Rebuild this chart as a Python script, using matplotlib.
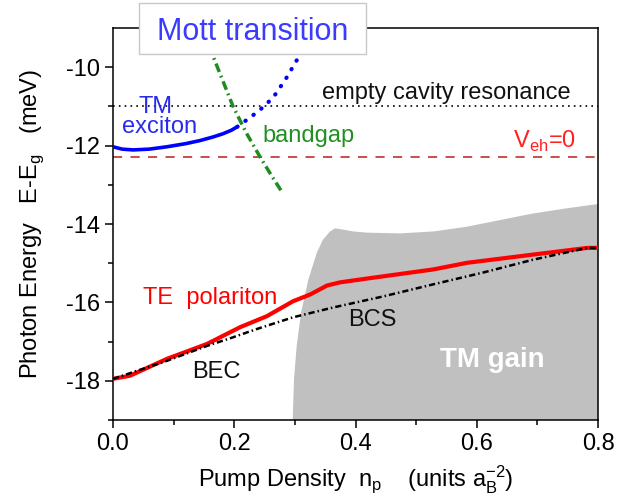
import matplotlib
matplotlib.use("Agg")
import matplotlib.pyplot as plt
from matplotlib.patches import Rectangle

plt.rcParams['font.family'] = ['Liberation Sans', 'DejaVu Sans']
plt.rcParams['mathtext.fontset'] = 'custom'
plt.rcParams['mathtext.rm'] = 'Liberation Sans'
plt.rcParams['axes.unicode_minus'] = False

# TM exciton (solid) and its continuation (dotted)
exc_x = [0.0, 0.015, 0.033, 0.06, 0.089, 0.12, 0.144, 0.165, 0.181, 0.195, 0.205]
exc_y = [-12.03, -12.09, -12.11, -12.09, -12.03, -11.95, -11.87, -11.78, -11.70, -11.61, -11.52]
mott_x = [0.205, 0.214, 0.241, 0.264, 0.285, 0.307, 0.33]
mott_y = [-11.52, -11.42, -11.11, -10.78, -10.30, -9.72, -9.0]

# bandgap
gap_x = [0.147, 0.165, 0.198, 0.22, 0.243, 0.262, 0.279]
gap_y = [-9.0, -9.72, -11.0, -11.68, -12.3, -12.78, -13.19]

# TE polariton and BCS
te_x = [0.0, 0.028, 0.089, 0.155, 0.21, 0.254, 0.297, 0.325, 0.353, 0.374, 0.429, 0.528, 0.584, 0.693, 0.782, 0.8]
te_y = [-17.95, -17.87, -17.44, -17.06, -16.63, -16.35, -15.97, -15.80, -15.57, -15.49, -15.37, -15.16, -14.99, -14.78, -14.61, -14.61]
bcs_x = [0.0, 0.089, 0.155, 0.198, 0.237, 0.297, 0.363, 0.445, 0.528, 0.61, 0.693, 0.782, 0.8]
bcs_y = [-17.95, -17.49, -17.11, -16.89, -16.68, -16.38, -16.13, -15.85, -15.54, -15.24, -14.91, -14.61, -14.61]

# TM gain region outline
gain_x = [0.2964, 0.2986, 0.3030, 0.3102, 0.3222, 0.3360, 0.3459, 0.3579, 0.3662, 0.3744, 0.3964,
          0.4185, 0.4734, 0.5284, 0.5834, 0.6384, 0.6933, 0.7484, 0.8, 0.8]
gain_y = [-19.0, -17.95, -17.11, -16.26, -15.42, -14.74, -14.41, -14.19, -14.11, -14.13, -14.19,
          -14.22, -14.24, -14.19, -14.07, -13.90, -13.73, -13.60, -13.49, -19.0]

cavity = -11.0
veh0 = -12.3

xticks = [0.0, 0.2, 0.4, 0.6, 0.8]
yticks = [-18, -16, -14, -12, -10]

fig = plt.figure(figsize=(6.26, 4.98), dpi=100)
ax = fig.add_axes([0.1805, 0.1566, 0.7748, 0.7872])

ax.fill(gain_x, gain_y, color='#c0c0c0', lw=0, zorder=1)

ax.axhline(cavity, color='black', lw=1.2, ls=(0, (1, 2.5)), zorder=2)
ax.axhline(veh0, color='#c0302f', lw=1.2, ls=(0, (5.5, 5)), zorder=2)

ax.plot(te_x, te_y, color='#ff0000', lw=3, zorder=3)
ax.plot(bcs_x, bcs_y, color='black', lw=1.8, ls=(0, (2.5, 1.2, 0.6, 1.2)), zorder=4)
ax.plot(gap_x, gap_y, color='#1e8c1e', lw=2.5, ls=(0, (2.6, 1.2, 0.5, 1.2)), zorder=3)
ax.plot(exc_x, exc_y, color='#0000ff', lw=2.6, solid_capstyle='round', zorder=4)
ax.plot(mott_x, mott_y, color='#0000ff', lw=3, ls=(0, (0.1, 2.3)), dash_capstyle='round', zorder=4)

fs = 17
ax.text(0.345, -10.81, 'empty cavity resonance', fontsize=fs, color='#111111')
ax.text(0.070, -11.16, 'TM', fontsize=fs, color='#2a2aee', ha='center')
ax.text(0.077, -11.67, 'exciton', fontsize=fs, color='#2a2aee', ha='center')
ax.text(0.2457, -11.92, 'bandgap', fontsize=fs, color='#209020')
ax.text(0.66, -12.05, r'V$_\mathregular{eh}$=0', fontsize=fs, color='#ff2020')
ax.text(0.0495, -16.05, 'TE  polariton', fontsize=fs, color='#ff0000')
ax.text(0.388, -16.61, 'BCS', fontsize=fs, color='#111111')
ax.text(0.130, -17.92, 'BEC', fontsize=fs, color='#111111')
ax.text(0.539, -17.65, 'TM gain', fontsize=20, color='white', fontweight='bold')

# title box sitting across the top edge
ax.add_patch(Rectangle((0.0536, 0.934), 0.468, 0.130, transform=ax.transAxes,
                       facecolor='white', edgecolor='#c8c8c8', lw=1, clip_on=False, zorder=9))
ax.text(0.287, 0.969, 'Mott transition', transform=ax.transAxes, fontsize=22, color='#3b3bff',
        ha='center', va='baseline', clip_on=False, zorder=10)

ax.set_xlim(0, 0.8)
ax.set_ylim(-19, -9)
ax.set_xticks(xticks)
ax.set_yticks(yticks)
ax.set_xticks([0.1, 0.3, 0.5, 0.7], minor=True)
ax.set_yticks([-19, -17, -15, -13, -11], minor=True)
ax.tick_params(which='major', direction='out', length=5.5, width=1.1, labelsize=17, pad=4)
ax.tick_params(which='minor', direction='out', length=3.5, width=1.1)
for s in ax.spines.values():
    s.set_linewidth(1.1)

ax.set_xlabel(r'Pump Density  n$_\mathregular{p}$    (units a$_\mathregular{B}^\mathregular{-2}$)',
              fontsize=17, labelpad=6)
ax.set_ylabel(r'Photon Energy   E-E$_\mathregular{g}$   (meV)', fontsize=17, labelpad=14)

fig.savefig('out.png', dpi=100)
